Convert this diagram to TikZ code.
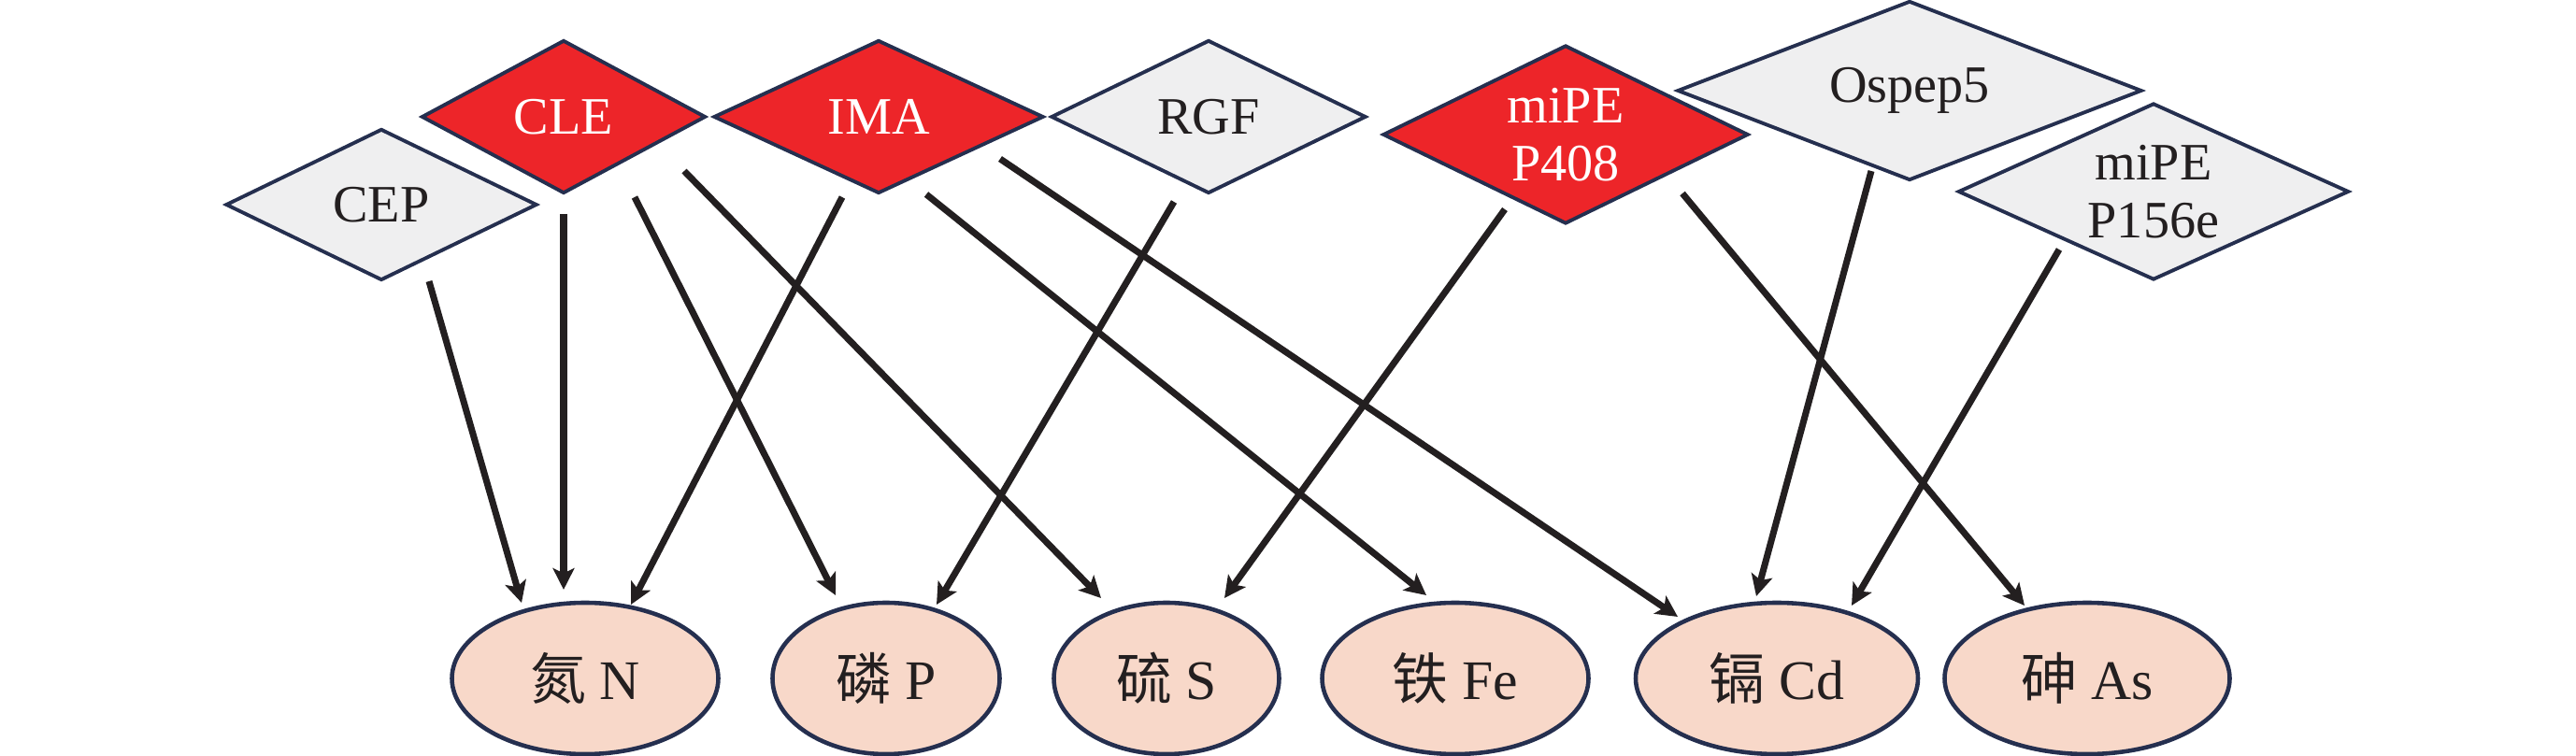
\documentclass[tikz,border=0pt]{standalone}
\usepackage{fontspec}
\setmainfont{Liberation Serif}
\newfontfamily\cjk{Noto Sans CJK SC}
\usetikzlibrary{shapes.geometric,arrows.meta}

\definecolor{redfill}{RGB}{237,37,41}
\definecolor{grayfill}{RGB}{239,239,240}
\definecolor{navy}{RGB}{37,47,79}
\definecolor{peach}{RGB}{248,216,201}
\definecolor{ink}{RGB}{35,31,32}

\begin{document}
\begin{tikzpicture}[
  dia/.style={diamond, draw=navy, line width=1.1pt, inner sep=-1cm, align=center, font=\fontsize{16}{17.5}\selectfont},
  dgray/.style={dia, fill=grayfill, text=ink},
  dred/.style={dia, fill=redfill, text=white},
  elem/.style={ellipse, draw=navy, line width=1.3pt, fill=peach, inner sep=0pt, minimum height=1.62cm, text=ink, font=\fontsize{17}{20}\selectfont},
  arr/.style={draw=ink, line width=2pt, -{Stealth[length=6.5pt,width=6.5pt,inset=1.5pt]}}
]
\useasboundingbox (0,0) rectangle (27.56,-8.09);

% peptides
\node[dgray, minimum width=3.33cm, minimum height=1.62cm] (cep) at (4.08,-2.19) {CEP};
\node[dred, minimum width=3.04cm, minimum height=1.64cm] (cle) at (6.03,-1.25) {CLE};
\node[dred, minimum width=3.53cm, minimum height=1.64cm] (ima) at (9.40,-1.25) {IMA};
\node[dgray, minimum width=3.37cm, minimum height=1.64cm] (rgf) at (12.93,-1.25) {RGF};
\node[dred, minimum width=3.91cm, minimum height=1.91cm] (p408) at (16.75,-1.44) {miPE\\P408};
\node[dgray, minimum width=4.97cm, minimum height=1.92cm] (ospep) at (20.43,-0.97) {Ospep5};
\node[dgray, minimum width=4.18cm, minimum height=1.89cm] (p156) at (23.04,-2.05) {miPE\\P156e};

% elements
\node[elem, minimum width=2.85cm] (n) at (6.26,-7.26) {{\cjk 氮} N};
\node[elem, minimum width=2.43cm] (p) at (9.48,-7.26) {{\cjk 磷} P};
\node[elem, minimum width=2.41cm] (s) at (12.48,-7.26) {{\cjk 硫} S};
\node[elem, minimum width=2.85cm] (fe) at (15.57,-7.26) {{\cjk 铁} Fe};
\node[elem, minimum width=3.02cm] (cd) at (19.01,-7.26) {{\cjk 镉} Cd};
\node[elem, minimum width=3.05cm] (as) at (22.33,-7.26) {{\cjk 砷} As};

\draw[arr] ([shift={(0.51,-0.82)}]cep.center) -- ([shift={(-0.68,0.81)}]n.center);
\draw[arr] ([shift={(0,-1.04)}]cle.center) -- ([shift={(-0.23,0.95)}]n.center);
\draw[arr] ([shift={(-0.39,-0.86)}]ima.center) -- ([shift={(0.49,0.79)}]n.center);
\draw[arr] ([shift={(0.76,-0.86)}]cle.center) -- ([shift={(-0.54,0.89)}]p.center);
\draw[arr] ([shift={(1.29,-0.58)}]cle.center) -- ([shift={(-0.70,0.86)}]s.center);
\draw[arr] ([shift={(-0.37,-0.91)}]rgf.center) -- ([shift={(0.54,0.79)}]p.center);
\draw[arr] ([shift={(0.51,-0.83)}]ima.center) -- ([shift={(-0.31,0.89)}]fe.center);
\draw[arr] ([shift={(1.30,-0.45)}]ima.center) -- ([shift={(-1.06,0.66)}]cd.center);
\draw[arr] ([shift={(-0.65,-0.80)}]p408.center) -- ([shift={(0.62,0.86)}]s.center);
\draw[arr] ([shift={(1.25,-0.63)}]p408.center) -- ([shift={(-0.67,0.78)}]as.center);
\draw[arr] ([shift={(-0.41,-0.86)}]ospep.center) -- ([shift={(-0.22,0.88)}]cd.center);
\draw[arr] ([shift={(-1.01,-0.62)}]p156.center) -- ([shift={(0.80,0.78)}]cd.center);

\end{tikzpicture}
\end{document}
